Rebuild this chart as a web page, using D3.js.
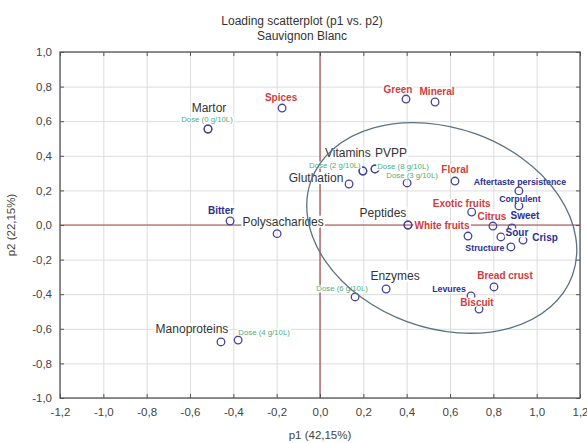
<!DOCTYPE html>
<html>
<head>
<meta charset="utf-8">
<script src="https://cdn.jsdelivr.net/npm/d3@7"></script>
<style>
  body { margin: 0; background: #fff; }
  svg { font-family: Arial, "Liberation Sans", sans-serif; }
</style>
</head>
<body>
<div id="chart"></div>
<script>
// loadings
const names = [
  "Martor", "Dose (0 g/10L)", "Spices", "Bitter", "Polysacharides",
  "Green", "Mineral", "Vitamins", "Dose (2 g/10L)", "PVPP", "Dose (8 g/10L)",
  "Gluthation", "Dose (3 g/10L)", "Peptides", "White fruits", "Floral",
  "Aftertaste persistence", "Corpulent", "Exotic fruits", "Citrus", "Sweet", "",
  "Sour", "Crisp", "Structure", "Bread crust", "Levures", "Biscuit",
  "Enzymes", "Dose (6 g/10L)", "Manoproteins", "Dose (4 g/10L)"
];
const p1 = [
  -0.517, -0.517, -0.175, -0.415, -0.198,
  0.397, 0.531, 0.198, 0.198, 0.254, 0.254,
  0.134, 0.402, 0.406, 0.406, 0.623,
  0.918, 0.918, 0.700, 0.798, 0.886, 0.683,
  0.835, 0.937, 0.881, 0.803, 0.697, 0.734,
  0.305, 0.162, -0.457, -0.378
];
const p2 = [
  0.555, 0.555, 0.676, 0.023, -0.050,
  0.728, 0.711, 0.312, 0.312, 0.324, 0.324,
  0.237, 0.243, 0.000, 0.000, 0.254,
  0.197, 0.110, 0.075, -0.006, -0.017, -0.064,
  -0.069, -0.087, -0.127, -0.358, -0.410, -0.486,
  -0.370, -0.416, -0.676, -0.665
];
// treatment, dose, positive (red) or negative (blue) descriptor
const groups = [
  "treatment", "dose", "positive", "negative", "treatment",
  "positive", "positive", "treatment", "dose", "treatment", "dose",
  "treatment", "dose", "treatment", "positive", "positive",
  "negative", "negative", "positive", "positive", "negative", "negative",
  "negative", "negative", "negative", "positive", "negative", "positive",
  "treatment", "dose", "treatment", "dose"
];
const xTicks = [-1.2, -1.0, -0.8, -0.6, -0.4, -0.2, 0.0, 0.2, 0.4, 0.6, 0.8, 1.0, 1.2];
const yTicks = [-1.0, -0.8, -0.6, -0.4, -0.2, 0.0, 0.2, 0.4, 0.6, 0.8, 1.0];

// label placement relative to its point (px)
const labelOffset = {
  "Martor": [1, -21], "Dose (0 g/10L)": [-1, -9], "Spices": [-1, -11],
  "Bitter": [-9, -11], "Polysacharides": [6, -12], "Green": [-8, -10],
  "Mineral": [2, -10], "Vitamins": [-15, -18], "Dose (2 g/10L)": [-28, -6],
  "PVPP": [16, -16], "Dose (8 g/10L)": [28, -2], "Gluthation": [-33, -6],
  "Dose (3 g/10L)": [5, -7], "Peptides": [-25, -12], "White fruits": [34, 0],
  "Floral": [0, -12], "Aftertaste persistence": [1, -9], "Corpulent": [1, -7],
  "Exotic fruits": [-10, -9], "Citrus": [-1, -10], "Sweet": [13, -12],
  "Sour": [16, -4], "Crisp": [22, -3], "Structure": [-26, 1],
  "Bread crust": [11, -11], "Levures": [-22, -7], "Biscuit": [-2, -7],
  "Enzymes": [9, -13], "Dose (6 g/10L)": [-13, -8], "Manoproteins": [-29, -13],
  "Dose (4 g/10L)": [26, -8]
};
const smallLabels = ["Aftertaste persistence", "Corpulent", "Structure", "Levures"];

const groupStyle = {
  treatment: {color: "#333", size: 12, weight: "normal"},
  dose:      {color: "#4fae7c", size: 7.8, weight: "normal"},
  positive:  {color: "#d23c3c", size: 10, weight: "bold"},
  negative:  {color: "#2b2f95", size: 10, weight: "bold"}
};

// confidence ellipse drawn round the descriptors
const ellipse = {cx: 0.562, cy: -0.017, rx: 139, ry: 100, angle: 20};

const width = 587, height = 443;
const margin = {top: 52, right: 7, bottom: 45, left: 60};

const svg = d3.select("#chart").append("svg")
  .attr("width", width)
  .attr("height", height);

const x = d3.scaleLinear().domain([-1.2, 1.2]).range([margin.left, width - margin.right]);
const y = d3.scaleLinear().domain([-1, 1]).range([height - margin.bottom, margin.top]);
const fmt = v => d3.format(".1f")(v).replace(".", ",").replace("−", "-");

// titles
svg.append("text")
  .attr("x", 302).attr("y", 25)
  .attr("text-anchor", "middle")
  .attr("font-size", 12).attr("fill", "#333")
  .text("Loading scatterplot (p1 vs. p2)");
svg.append("text")
  .attr("x", 302).attr("y", 40)
  .attr("text-anchor", "middle")
  .attr("font-size", 12).attr("fill", "#333")
  .text("Sauvignon Blanc");

// grid
svg.append("g")
  .attr("transform", `translate(0,${y(-1)})`)
  .call(d3.axisBottom(x).tickValues(xTicks).tickSize(-(y(-1) - y(1))).tickFormat(""))
  .call(g => g.select(".domain").remove())
  .selectAll("line").attr("stroke", "#dcdcdc");
svg.append("g")
  .attr("transform", `translate(${x(-1.2)},0)`)
  .call(d3.axisLeft(y).tickValues(yTicks).tickSize(-(x(1.2) - x(-1.2))).tickFormat(""))
  .call(g => g.select(".domain").remove())
  .selectAll("line").attr("stroke", "#dcdcdc");

// zero lines
svg.append("line")
  .attr("x1", x(0)).attr("x2", x(0)).attr("y1", y(1)).attr("y2", y(-1))
  .attr("stroke", "#a44646").attr("stroke-width", 1.2);
svg.append("line")
  .attr("x1", x(-1.2)).attr("x2", x(1.2)).attr("y1", y(0)).attr("y2", y(0))
  .attr("stroke", "#a44646").attr("stroke-width", 1.2);

// axes with inside ticks
const xAxis = svg.append("g")
  .attr("transform", `translate(0,${y(-1)})`)
  .call(d3.axisBottom(x).tickValues(xTicks).tickSize(-4).tickPadding(10).tickFormat(fmt));
const yAxis = svg.append("g")
  .attr("transform", `translate(${x(-1.2)},0)`)
  .call(d3.axisLeft(y).tickValues(yTicks).tickSize(-4).tickPadding(8).tickFormat(fmt));
svg.append("g")
  .attr("transform", `translate(0,${y(1)})`)
  .call(d3.axisTop(x).tickValues(xTicks).tickSize(-4).tickFormat(""));
svg.append("g")
  .attr("transform", `translate(${x(1.2)},0)`)
  .call(d3.axisRight(y).tickValues(yTicks).tickSize(-4).tickFormat(""));
svg.selectAll(".domain").attr("stroke", "none");
svg.selectAll(".tick line").filter(function () {
  const s = d3.select(this);
  return Math.abs(+s.attr("y2")) === 4 || Math.abs(+s.attr("x2")) === 4;
}).attr("stroke", "#555");
[xAxis, yAxis].forEach(a => a.selectAll("text")
  .attr("font-size", 11.5).attr("fill", "#444")
  .attr("font-family", "Arial, 'Liberation Sans', sans-serif"));

// points
const points = names.map((n, i) => ({name: n, p1: p1[i], p2: p2[i], group: groups[i]}));

svg.append("g")
  .selectAll("circle")
  .data(points)
  .enter().append("circle")
  .attr("cx", d => x(d.p1))
  .attr("cy", d => y(d.p2))
  .attr("r", 3.8)
  .attr("fill", "none")
  .attr("stroke", "#45459a")
  .attr("stroke-width", 1.3);

// labels, with an opaque box behind each as in the original
const labels = svg.append("g");
points.filter(d => d.name).forEach(d => {
  const st = groupStyle[d.group];
  const off = labelOffset[d.name] || [0, -10];
  const g = labels.append("g");
  const t = g.append("text")
    .attr("x", x(d.p1) + off[0])
    .attr("y", y(d.p2) + off[1])
    .attr("text-anchor", "middle")
    .attr("dominant-baseline", "central")
    .attr("font-size", smallLabels.includes(d.name) ? 8.8 : st.size)
    .attr("font-weight", st.weight)
    .attr("fill", st.color)
    .text(d.name);
  const b = t.node().getBBox();
  g.insert("rect", "text")
    .attr("x", b.x - 1).attr("y", b.y + 1)
    .attr("width", b.width + 2).attr("height", b.height - 2)
    .attr("fill", "#fff");
});

// ellipse
svg.append("ellipse")
  .attr("transform", `translate(${x(ellipse.cx)},${y(ellipse.cy)}) rotate(${ellipse.angle})`)
  .attr("rx", ellipse.rx).attr("ry", ellipse.ry)
  .attr("fill", "none")
  .attr("stroke", "#5b7282")
  .attr("stroke-width", 1.3);

// frame
svg.append("rect")
  .attr("x", x(-1.2)).attr("y", y(1))
  .attr("width", x(1.2) - x(-1.2)).attr("height", y(-1) - y(1))
  .attr("fill", "none").attr("stroke", "#555").attr("stroke-width", 1.3);

// axis titles
svg.append("text")
  .attr("x", x(0)).attr("y", 439)
  .attr("text-anchor", "middle")
  .attr("font-size", 11.5).attr("fill", "#444")
  .text("p1 (42,15%)");
svg.append("text")
  .attr("transform", `translate(15,${y(0)}) rotate(-90)`)
  .attr("text-anchor", "middle")
  .attr("font-size", 11.5).attr("fill", "#444")
  .text("p2 (22,15%)");
</script>
</body>
</html>
